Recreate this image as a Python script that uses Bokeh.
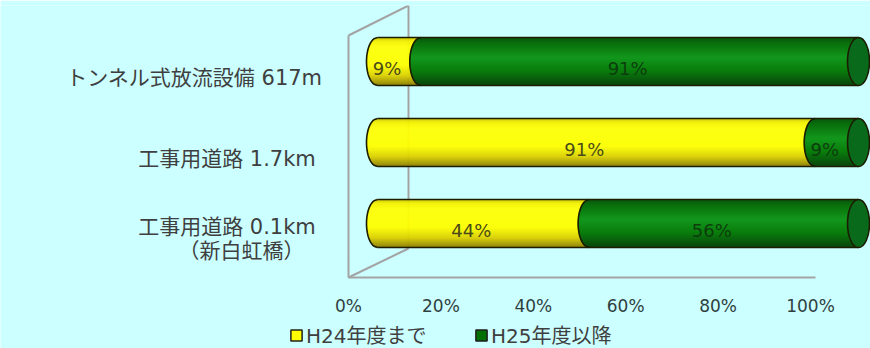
import numpy as np
from bokeh.plotting import figure
from bokeh.models import (Range1d, LinearAxis, FixedTicker, Legend, LegendItem,
                          ColumnDataSource)
from bokeh.core.properties import value
from bokeh.embed import file_html
from bokeh.resources import INLINE

# ---------------- data ----------------
categories = ["トンネル式放流設備 617m", "工事用道路  1.7km", "工事用道路  0.1km"]
category_sublabels = ["", "", "（新白虹橋）"]
series_names = ["H24年度まで", "H25年度以降"]
h24_pct = [9, 91, 44]
h25_pct = [91, 9, 56]
x_ticks = [0, 20, 40, 60, 80, 100]
x_tick_labels = ["0%", "20%", "40%", "60%", "80%", "100%"]

# ---------------- style ----------------
W, H = 870, 348
BG = "#ccffff"
FRAME_TOP = 5
FLOOR_PX = 277
ROW_PX, ROW0_PX, BAR_PX = 81, 61, 48
CAP_RX_PX = 11
BAR_X0_PX, BAR_X1_PX = 377, 858          # bars (middle depth plane)
AX_X0_PX, AX_X1_PX = 348, 810            # axis (front plane)
DEPTH_X_PX, DEPTH_Y_PX = 60, 30
WALL = "#a3a3a3"
OUTLINE = "#1c1c00"
LATIN = "DejaVu Sans, Noto Sans CJK JP"
TEXT = "#3f3f3f"

series_stops = [
    [(0.0, "#c8c000"), (0.08, "#f4f000"), (0.2, "#ffff08"), (0.58, "#ffff00"),
     (0.8, "#dcd000"), (1.0, "#8c7c00")],
    [(0.0, "#004c00"), (0.12, "#006800"), (0.42, "#0a9212"), (0.7, "#007600"),
     (1.0, "#003c00")],
]
cap_colors = ["#d8d000", "#0a6a1c"]
legend_colors = ["#ffff00", "#007000"]
pct_colors = ["#4a4a18", "#0d3d0d"]

# ---------------- scales ----------------
sb = (BAR_X1_PX - BAR_X0_PX) / 100.0
sa = (AX_X1_PX - AX_X0_PX) / 100.0
bx0 = -BAR_X0_PX / sb
ax0 = -AX_X0_PX / sa
FH = H - FRAME_TOP
y_top = -(ROW0_PX - FRAME_TOP) / ROW_PX
y_bot = y_top + FH / ROW_PX


def py(px):
    return y_top + (px - FRAME_TOP) / ROW_PX


y_floor = py(FLOOR_PX)

p = figure(width=W, height=H, output_backend="svg", toolbar_location=None,
           x_range=Range1d(bx0, bx0 + W / sb), y_range=Range1d(y_bot, y_top),
           x_axis_location=None, y_axis_location=None,
           min_border_left=0, min_border_right=0, min_border_top=FRAME_TOP,
           min_border_bottom=0,
           background_fill_color=BG, border_fill_color=BG, outline_line_color=None)
p.extra_x_ranges = {"axis": Range1d(ax0, ax0 + W / sa)}
p.xgrid.visible = False
p.ygrid.visible = False

# ---- 3D wall frame (behind bars) ----
dx = DEPTH_X_PX / sa
wall_xs = [[0, 0], [dx, dx], [0, dx], [0, dx]]
wall_ys = [[py(35), y_floor], [py(5), py(248)], [py(35), py(5)], [y_floor, py(248)]]
p.multi_line(wall_xs, wall_ys, line_color=WALL, line_width=2, x_range_name="axis")

# ---- axis ----
ax = LinearAxis(x_range_name="axis", ticker=FixedTicker(ticks=x_ticks),
                major_label_overrides={t: l for t, l in zip(x_ticks, x_tick_labels)},
                fixed_location=y_floor)
ax.bounds = (0, 101)
ax.axis_line_color = WALL
ax.axis_line_width = 2
ax.major_tick_line_color = None
ax.minor_tick_line_color = None
ax.major_label_standoff = 12
ax.major_label_text_font = LATIN
ax.major_label_text_font_size = "17px"
ax.major_label_text_color = "#2f3f3f"
p.add_layout(ax, "below")


# ---- cylinders ----
def interp_color(stops, t):
    for (t0, c0), (t1, c1) in zip(stops[:-1], stops[1:]):
        if t <= t1:
            f = 0 if t1 == t0 else (t - t0) / (t1 - t0)
            a = [int(c0[i:i + 2], 16) for i in (1, 3, 5)]
            b = [int(c1[i:i + 2], 16) for i in (1, 3, 5)]
            return "#%02x%02x%02x" % tuple(int(round(a[k] + (b[k] - a[k]) * f)) for k in range(3))
    return stops[-1][1]


rx = CAP_RX_PX / sb
hh = BAR_PX / 2 / ROW_PX
NB = 48
tt = np.linspace(0, 1, NB + 1)

band_xs, band_ys, band_cols = [], [], []
out_xs, out_ys = [], []
cap_x, cap_y, cap_c = [], [], []
lab_x, lab_y, lab_t, lab_c = [], [], [], []
values = [h24_pct, h25_pct]
for i in range(len(categories)):
    yc = i
    s = 0.0
    nseg = len(values)
    for j in range(nseg):
        v = values[j][i]
        e = s + v
        last = (j == nseg - 1)
        for k in range(NB):
            t0, t1 = tt[k], min(tt[k + 1] + 0.004, 1)
            w0 = np.sqrt(max(0.0, 1 - (2 * t0 - 1) ** 2))
            w1 = np.sqrt(max(0.0, 1 - (2 * t1 - 1) ** 2))
            y0 = yc - hh + t0 * 2 * hh
            y1 = yc - hh + t1 * 2 * hh
            l0, l1 = s - rx * w0, s - rx * w1
            r0, r1 = (e, e) if last else (e - rx * w0, e - rx * w1)
            band_xs.append([l0, r0, r1, l1])
            band_ys.append([y0, y0, y1, y1])
            band_cols.append(interp_color(series_stops[j], (tt[k] + tt[k + 1]) / 2))
        # left arc outline
        ta = np.linspace(0, 1, 40)
        out_xs.append(list(s - rx * np.sqrt(np.clip(1 - (2 * ta - 1) ** 2, 0, 1))))
        out_ys.append(list(yc - hh + ta * 2 * hh))
        if last:
            cap_x.append(e)
            cap_y.append(yc)
            cap_c.append(cap_colors[j])
        lab_x.append(s + v / 2)
        lab_y.append(yc)
        lab_t.append(f"{v}%")
        lab_c.append(pct_colors[j])
        s = e
    out_xs += [[0, s], [0, s]]
    out_ys += [[yc - hh, yc - hh], [yc + hh, yc + hh]]

p.patches("xs", "ys", source=ColumnDataSource(dict(xs=band_xs, ys=band_ys, c=band_cols)),
          fill_color="c", line_color="c", line_width=0.4)
p.multi_line(out_xs, out_ys, line_color=OUTLINE, line_width=1.6)
p.ellipse(x=cap_x, y=cap_y, width=2 * CAP_RX_PX, height=BAR_PX,
          width_units="screen", height_units="screen",
          fill_color=cap_c, line_color=OUTLINE, line_width=1.6)
p.text(x=lab_x, y=lab_y, text=lab_t, text_color=lab_c,
       text_font=value(LATIN), text_font_size="18px",
       text_align="center", text_baseline="middle", x_offset=-12, y_offset=7)

# ---- category labels ----
lx, ly, lt, lo, ldx = [], [], [], [], []
for i, (c, sub) in enumerate(zip(categories, category_sublabels)):
    if sub:
        lx += [0, 0]
        ly += [i, i]
        lt += [c, sub]
        lo += [3, 27]
        ldx += [-26, -44]
    else:
        lx.append(0)
        ly.append(i)
        lt.append(c)
        lo.append(16)
        ldx.append(-26)
lsrc = ColumnDataSource(dict(x=lx, y=ly, t=lt, o=lo, dx=ldx))
p.text(x="x", y="y", text="t", source=lsrc, x_range_name="axis",
       x_offset="dx", y_offset="o", text_align="right", text_baseline="middle",
       text_font=value(LATIN), text_font_size="21px", text_color=TEXT)

# ---- legend ----
items = []
for name, col in zip(series_names, legend_colors):
    r = p.quad(left=[np.nan], right=[np.nan], top=[np.nan], bottom=[np.nan],
               fill_color=col, line_color="#202020", line_width=1.5)
    items.append(LegendItem(label=name, renderers=[r]))
leg = Legend(items=items, orientation="horizontal", location=(289, -1),
             background_fill_alpha=0, border_line_color=None, margin=0,
             padding=4, spacing=0, glyph_width=14, glyph_height=14,
             label_standoff=3, label_width=168,
             label_text_font=LATIN, label_text_font_size="20px",
             label_text_color=TEXT)
p.add_layout(leg, "center")

open("out.html", "w").write(file_html(p, INLINE))
